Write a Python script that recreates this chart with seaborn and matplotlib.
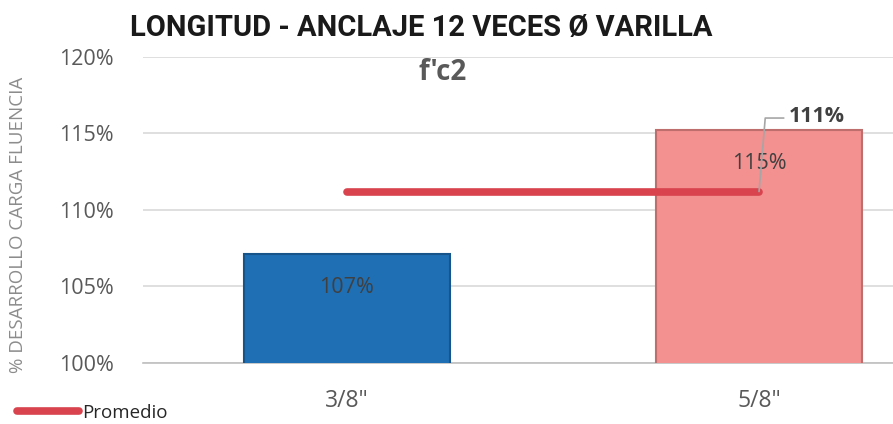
import numpy as np
import pandas as pd
import seaborn as sns
import matplotlib.pyplot as plt
from matplotlib.lines import Line2D

# Data
categories = ['3/8"', '5/8"']
desarrollo = [107.1, 115.2]
bar_labels = ['107%', '115%']
promedio = 111.2
promedio_label = '111%'
y_ticks = [100, 105, 110, 115, 120]

bar_colors = ['#1F6FB5', '#F39090']
edge_colors = ['#165489', '#BF6E6E']
line_color = '#D8434E'
text_gray = '#595959'

sns.set_style("white")
plt.rcParams['font.family'] = ['Open Sans', 'DejaVu Sans']

fig = plt.figure(figsize=(8.93, 4.24), dpi=100)
ax = fig.add_axes([0.160, 0.144, 0.840, 0.722])

df = pd.DataFrame({'diametro': categories, 'valor': desarrollo})
sns.barplot(data=df, x='diametro', y='valor', hue='diametro', palette=bar_colors,
            saturation=1, width=0.5, legend=False, ax=ax, zorder=3, linewidth=1.5)
for patch, ec in zip(ax.patches, edge_colors):
    patch.set_edgecolor(ec)

# Average line between bar centers
avg_line, = ax.plot([0, 1], [promedio, promedio], color=line_color, lw=5.5,
                    solid_capstyle='round', zorder=4)

# Values inside bars
for i, (v, lab) in enumerate(zip(desarrollo, bar_labels)):
    ax.text(i, v - 2.2, lab, ha='center', va='center', fontsize=15.5,
            color='#404040', zorder=5)

# Leader line and label for average
ax.plot([1.0, 1.015, 1.06], [promedio, 116.0, 116.0], color='#A6A6A6', lw=1.2, zorder=5)
ax.text(1.072, 116.1, promedio_label, ha='left', va='center', fontsize=15.5,
        fontweight='bold', color='#404040', zorder=5)

ax.set_ylim(100, 120)
ax.set_xlim(-0.495, 1.325)
ax.set_yticks(y_ticks)
ax.set_yticklabels([f"{t}%" for t in y_ticks], fontsize=15.5, color=text_gray)
ax.tick_params(axis='y', length=0, pad=21)
ax.tick_params(axis='x', length=0, pad=19, labelsize=16.5, labelcolor=text_gray)
ax.yaxis.grid(True, color='#D9D9D9', lw=1.2, zorder=0)
for s in ['top', 'right', 'left']:
    ax.spines[s].set_visible(False)
ax.spines['bottom'].set_color('#BFBFBF')
ax.spines['bottom'].set_linewidth(1.2)
ax.set_xlabel(None)
ax.set_ylabel('% DESARROLLO CARGA FLUENCIA', fontsize=13.5, color='#8C8C8C')
ax.yaxis.set_label_coords(-0.155, 0.45)

fig.text(0.472, 0.935, 'LONGITUD - ANCLAJE 12 VECES Ø VARILLA', ha='center', va='center',
         fontsize=21, fontweight='bold', color='#1A1A1A', family=['Roboto', 'DejaVu Sans'])
fig.text(0.496, 0.83, "f'c2", ha='center', va='center', fontsize=20,
         fontweight='bold', color='#595959')

fig.legend(handles=[Line2D([], [], color=line_color, lw=5.5, solid_capstyle='round')],
           labels=['Promedio'], loc='lower left', bbox_to_anchor=(0.0, -0.035),
           frameon=False, fontsize=13.5, handlelength=3.3, handletextpad=0.2)

fig.savefig('out.png', dpi=100)
